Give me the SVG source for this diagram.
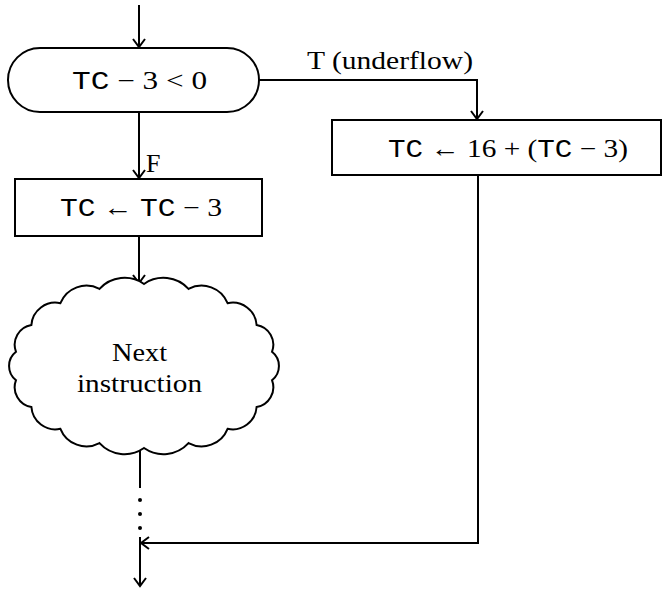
<svg xmlns="http://www.w3.org/2000/svg" width="663" height="589" viewBox="0 0 663 589">
<style>
  .shape { fill: #fff; stroke: #000; stroke-width: 2; }
  .conn { fill: none; stroke: #000; stroke-width: 2; }
  .t { font-family: "Liberation Serif", "DejaVu Serif", serif; font-size: 25px; fill: #000; }
  .l { font-family: "Liberation Serif", "DejaVu Serif", serif; font-size: 26px; fill: #000; }
  .m { font-family: "Liberation Mono", "DejaVu Sans Mono", monospace; }
</style>
<defs>
  <marker id="arr" markerUnits="userSpaceOnUse" markerWidth="16" markerHeight="16" refX="0" refY="0" viewBox="-8 -8 16 16" orient="auto" overflow="visible">
    <path d="M-8,-6 L0,0 L-8,6" fill="none" stroke="#000" stroke-width="2"/>
  </marker>
</defs>
<rect width="663" height="589" fill="#fff"/>
<g id="connectors">
  <path class="conn" d="M139,5 V47" marker-end="url(#arr)"/>
  <path class="conn" d="M259,80 H477 V119" marker-end="url(#arr)"/>
  <path class="conn" d="M139,112 V178" marker-end="url(#arr)"/>
  <path class="conn" d="M139,236 V283" marker-end="url(#arr)"/>
  <path class="conn" d="M140,446 V488"/>
  <circle cx="140" cy="500" r="2" fill="#000"/>
  <circle cx="140" cy="514" r="2" fill="#000"/>
  <circle cx="140" cy="528" r="2" fill="#000"/>
  <path class="conn" d="M478,175 V543 H141" marker-end="url(#arr)"/>
  <path class="conn" d="M140,537 V586" marker-end="url(#arr)"/>
  <text class="l" x="307" y="69" textLength="166" lengthAdjust="spacingAndGlyphs">T (underflow)</text>
  <text class="l" x="146" y="172">F</text>
</g>
<g id="test">
  <rect class="shape" x="8" y="48" width="251" height="64" rx="32" ry="32"/>
  <text class="t" x="72" y="89" textLength="135" lengthAdjust="spacingAndGlyphs"><tspan class="m">TC</tspan> − 3 &lt; 0</text>
</g>
<g id="underflow">
  <rect class="shape" x="332" y="120" width="329" height="55"/>
  <text class="t" x="388" y="157" textLength="240" lengthAdjust="spacingAndGlyphs"><tspan class="m">TC</tspan> ← 16 + (<tspan class="m">TC</tspan> − 3)</text>
</g>
<g id="decrement">
  <rect class="shape" x="15" y="179" width="247" height="57"/>
  <text class="t" x="60" y="216" textLength="162" lengthAdjust="spacingAndGlyphs"><tspan class="m">TC</tspan> ← <tspan class="m">TC</tspan> − 3</text>
</g>
<g id="next">
  <path class="shape" d="M144,284 A34,34 0 0 1 188.5,288.9 A28,28 0 0 1 227.6,303.2 A24,24 0 0 1 256.6,325 A20,20 0 0 1 272,351.8 A18,18 0 0 1 272,380.2 A20,20 0 0 1 256.6,407 A24,24 0 0 1 227.6,428.8 A28,28 0 0 1 188.5,443.1 A34,34 0 0 1 144,448 A34,34 0 0 1 99.5,443.1 A28,28 0 0 1 60.4,428.8 A24,24 0 0 1 31.4,407 A20,20 0 0 1 16,380.2 A18,18 0 0 1 16,351.8 A20,20 0 0 1 31.4,325 A24,24 0 0 1 60.4,303.2 A28,28 0 0 1 99.5,288.9 A34,34 0 0 1 144,284 Z"/>
  <text class="l" x="112" y="361" textLength="55" lengthAdjust="spacingAndGlyphs">Next</text>
  <text class="l" x="77" y="392" textLength="125" lengthAdjust="spacingAndGlyphs">instruction</text>
</g>
</svg>
